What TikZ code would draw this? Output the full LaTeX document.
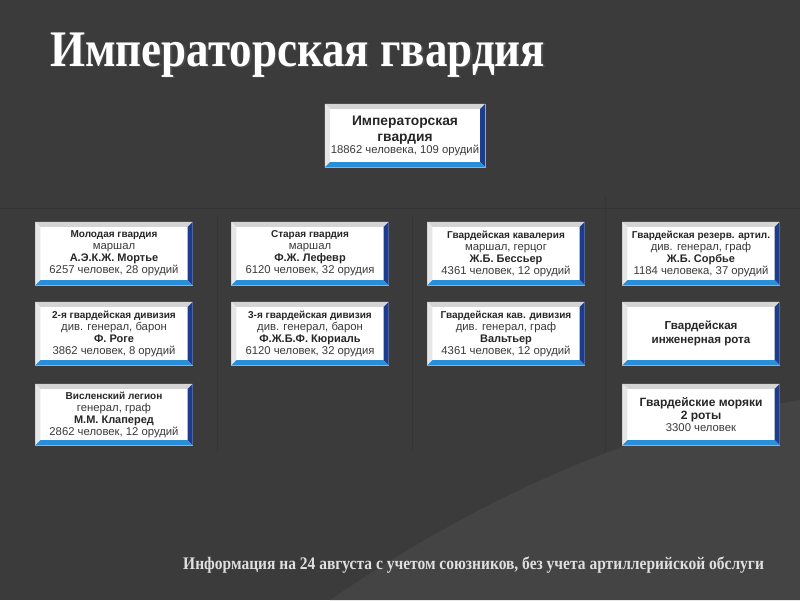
\documentclass[tikz,border=0pt]{standalone}
\usepackage{fontspec}
\setmainfont{Liberation Sans}
\newfontfamily\serifb{Liberation Serif}
\usetikzlibrary{calc}
\definecolor{bg}{HTML}{3B3B3B}
\definecolor{bglight}{HTML}{444444}
\definecolor{bgdark}{HTML}{353535}
\definecolor{bevtopc}{HTML}{D4D4D4}
\definecolor{bevleftc}{HTML}{E6E6E6}
\definecolor{bevrightc}{HTML}{1E3C8C}
\definecolor{bevbotc}{HTML}{2A8ED8}
\definecolor{txt}{HTML}{3A3A3A}
\definecolor{txtb}{HTML}{262626}
\newcommand\bigb[1]{{\color{txtb}\bfseries\fontsize{13.8}{15}\selectfont #1}}
\newcommand\hdb[1]{{\color{txtb}\bfseries\fontsize{10}{12}\selectfont #1}}
\newcommand\nmb[1]{{\color{txtb}\bfseries\fontsize{11}{12}\selectfont #1}}
\tikzset{
  gbox/.style={fill=white, draw=gray!60, line width=0.4pt, minimum width=157pt, minimum height=63pt,
    inner sep=0pt, align=center, text=txt, font=\fontsize{11.3}{12}\selectfont},
  gline/.style={draw=bgdark, line width=0.8pt},
}
\newcommand\bev[1]{%
  \fill[bevtopc] (#1.north west) -- (#1.north east) -- ([shift={(-5,5)}]#1.north east) -- ([shift={(5,5)}]#1.north west) -- cycle;
  \fill[bevleftc] (#1.north west) -- ([shift={(5,5)}]#1.north west) -- ([shift={(5,-5)}]#1.south west) -- (#1.south west) -- cycle;
  \fill[bevrightc] (#1.north east) -- ([shift={(-5,5)}]#1.north east) -- ([shift={(-5,-5)}]#1.south east) -- (#1.south east) -- cycle;
  \fill[bevbotc] (#1.south west) -- ([shift={(5,-5)}]#1.south west) -- ([shift={(-5,-5)}]#1.south east) -- (#1.south east) -- cycle;
}
\begin{document}
\begin{tikzpicture}[x=1pt,y=-1pt]
\fill[bg] (0,0) rectangle (800,600);
\fill[bglight] (330,600) .. controls (520,470) and (680,420) .. (800,400) -- (800,600) -- cycle;
\useasboundingbox (0,0) rectangle (800,600);
\draw[gline] (0,208) -- (800,208);
\draw[gline] (217,215) -- (217,452);
\draw[gline] (412,215) -- (412,452);
\draw[gline] (605,195) -- (605,452);
\node[anchor=base west, inner sep=0pt, text=black!70, yscale=1.14, font=\serifb\bfseries\fontsize{45}{50}\selectfont] (titleshadow) at (51.5,67.5) {Императорская гвардия};
\node[anchor=base west, inner sep=0pt, text=white, yscale=1.14, font=\serifb\bfseries\fontsize{45}{50}\selectfont] (title) at (50,66) {Императорская гвардия};
\node[gbox, minimum width=160pt] (root) at (405,135.5) {\bigb{Императорская}\\[4pt]\bigb{гвардия}\\[0pt]18862 человека, 109 орудий};
\node[gbox] (a1) at (114,253.5) {\hdb{Молодая гвардия}\\маршал\\\nmb{А.Э.К.Ж. Мортье}\\6257 человек, 28 орудий};
\node[gbox] (b1) at (310,253.5) {\hdb{Старая гвардия}\\маршал\\\nmb{Ф.Ж. Лефевр}\\6120 человек, 32 орудия};
\node[gbox] (c1) at (506,253.5) {\hdb{Гвардейская кавалерия}\\маршал, герцог\\\nmb{Ж.Б. Бессьер}\\4361 человек, 12 орудий};
\node[gbox] (d1) at (701,253.5) {\hdb{Гвардейская резерв. артил.}\\див. генерал, граф\\\nmb{Ж.Б. Сорбье}\\1184 человека, 37 орудий};
\node[gbox] (a2) at (114,333.5) {\hdb{2-я гвардейская дивизия}\\див. генерал, барон\\\nmb{Ф. Роге}\\3862 человек, 8 орудий};
\node[gbox] (b2) at (310,333.5) {\hdb{3-я гвардейская дивизия}\\див. генерал, барон\\\nmb{Ф.Ж.Б.Ф. Кюриаль}\\6120 человек, 32 орудия};
\node[gbox] (c2) at (506,333.5) {\hdb{Гвардейская кав. дивизия}\\див. генерал, граф\\\nmb{Вальтьер}\\4361 человек, 12 орудий};
\node[gbox] (d2) at (701,333.5) {{\color{txtb}\bfseries\fontsize{11.6}{14}\selectfont Гвардейская}\\[2pt]{\color{txtb}\bfseries\fontsize{11.6}{14}\selectfont инженерная рота}};
\node[gbox, minimum height=61pt] (a3) at (114,414.5) {\hdb{Висленский легион}\\генерал, граф\\\nmb{М.М. Клаперед}\\2862 человек, 12 орудий};
\node[gbox, minimum height=61pt] (d3) at (701,414.5) {{\color{txtb}\bfseries\fontsize{12}{13}\selectfont Гвардейские моряки}\\[1pt]{\color{txtb}\bfseries\fontsize{12}{13}\selectfont 2 роты}\\3300 человек};
\foreach \n in {root,a1,b1,c1,d1,a2,b2,c2,d2,a3,d3} {\bev{\n}}
\node[anchor=base west, inner sep=0pt, text=gray!25, yscale=1.14, font=\serifb\bfseries\fontsize{15.5}{17}\selectfont] (foot) at (183,569) {Информация на 24 августа с учетом союзников, без учета артиллерийской обслуги};
\end{tikzpicture}
\end{document}
